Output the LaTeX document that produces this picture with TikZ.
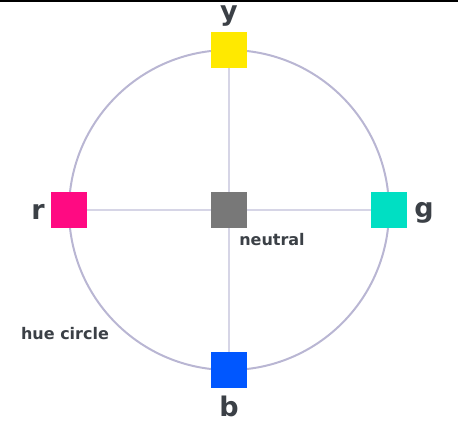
\documentclass[tikz,border=0pt]{standalone}
\usepackage{fontspec}
\setmainfont{DejaVu Sans}
\usetikzlibrary{positioning}
\definecolor{huering}{HTML}{B9B6D3}
\definecolor{huecross}{HTML}{D6D5E6}
\definecolor{labgray}{HTML}{3B4046}
\definecolor{hueY}{HTML}{FFE900}
\definecolor{hueR}{HTML}{FF0A82}
\definecolor{hueG}{HTML}{00DFC3}
\definecolor{hueB}{HTML}{0057FF}
\definecolor{hueN}{HTML}{787878}
\tikzset{
  swatch/.style={minimum size=36pt, inner sep=0pt, fill=#1},
  biglab/.style={text=labgray, inner sep=0pt, font=\bfseries\fontsize{27}{27}\selectfont},
  smalllab/.style={text=labgray, inner sep=0pt, font=\bfseries\fontsize{16}{16}\selectfont}
}

\begin{document}
\begin{tikzpicture}[x=1pt,y=-1pt]
  \useasboundingbox (0,0) rectangle (458,423);
  % top rule
  \draw[line width=2pt] (0,1) -- (458,1);

  % hue circle
  \coordinate (O) at (229,210);
  \draw[huering, line width=2pt] (O) circle (160pt);

  % swatches
  \node[swatch=hueN] (neutral) at (O) {};
  \node[swatch=hueY] (y) at (229,50) {};
  \node[swatch=hueR] (r) at (69,210) {};
  \node[swatch=hueG] (g) at (389,210) {};
  \node[swatch=hueB] (b) at (229,370) {};

  % cross
  \draw[huecross, line width=2pt] (r) -- (neutral);
  \draw[huecross, line width=2pt] (neutral) -- (g);
  \draw[huecross, line width=2pt] (y) -- (neutral);
  \draw[huecross, line width=2pt] (neutral) -- (b);

  % labels
  \node[biglab] (ylab) at (229,16) {y};
  \node[biglab] (rlab) at (38,212) {r};
  \node[biglab] (glab) at (424,213) {g};
  \node[biglab] (blab) at (229,406) {b};
  \node[smalllab] (nlab) at (272,240) {neutral};
  \node[smalllab] (hlab) at (65,334) {hue circle};
\end{tikzpicture}
\end{document}
